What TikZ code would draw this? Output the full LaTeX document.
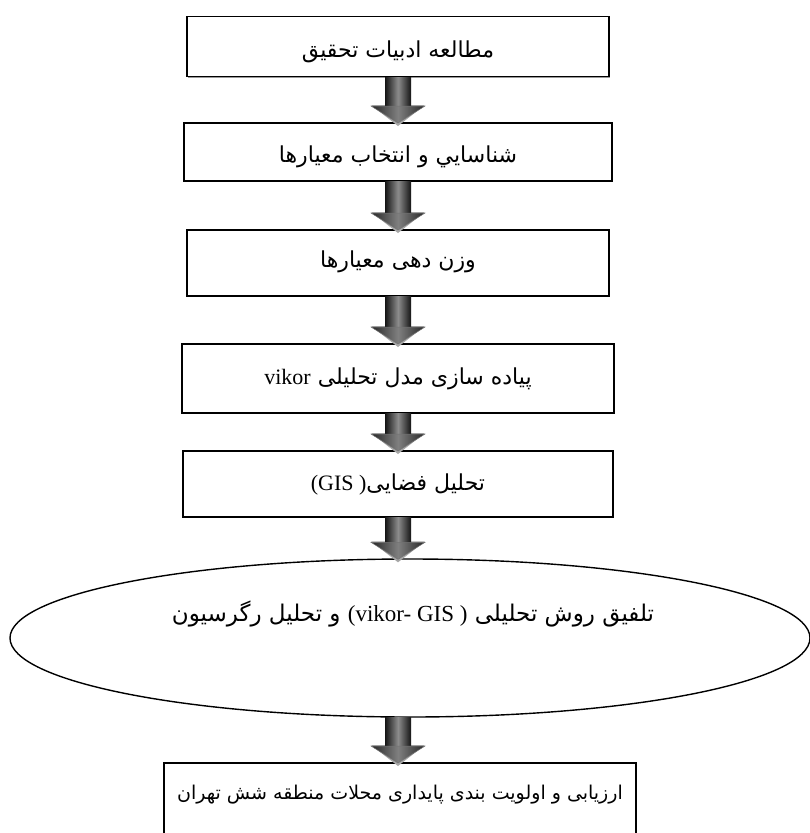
\documentclass[tikz,border=0pt]{standalone}
\usepackage{fontspec}
\setmainfont{Liberation Serif}
\newfontfamily\fafont[Script=Arabic]{DejaVu Sans}
\TeXXeTstate=1
\usetikzlibrary{calc,shapes.geometric,shadows}
\newcommand{\fa}[1]{{\fafont\beginR #1\endR}}
\newcommand{\lat}[1]{\beginL{\rmfamily #1}\endL{}}
\newcommand{\blockarrow}[3]{%
  \fill[black!35] let \p1=(#1.south), \p2=(#2.north), \p3=(#3.center) in
    (\x3-27pt,\y2+17pt) -- (\x3,\y2-4pt) -- (\x3+27pt,\y2+17pt) -- cycle;
  \shade[left color=black!92, right color=black!92, middle color=black!45]
    let \p1=(#1.south), \p2=(#2.north), \p3=(#3.center) in
    (\x3-13pt,\y1) rectangle (\x3+13pt,\y2+15.5pt);
  \shade[left color=black!85, right color=black!85, middle color=black!50, draw=black!55, line width=0.5pt]
    let \p1=(#1.south), \p2=(#2.north), \p3=(#3.center) in
    (\x3-27pt,\y2+16pt) -- (\x3,\y2-1pt) -- (\x3+27pt,\y2+16pt) -- cycle;
}
\tikzset{
  stepbox/.style={draw, line width=1.6pt, fill=white, rectangle, inner sep=0pt,
    font=\fontsize{22}{26}\selectfont,
    drop shadow={shadow xshift=1.3pt, shadow yshift=-1.3pt, fill=black!40, opacity=1}},
  ovalbox/.style={draw, line width=1.4pt, ellipse, inner sep=0pt, fill=white},
  ovaltext/.style={inner sep=0pt, font=\fontsize{23}{27}\selectfont}
}
\begin{document}
\begin{tikzpicture}[x=1pt,y=-1pt]
\useasboundingbox (0,0) rectangle (810,833);
\clip (0,0) rectangle (810,833);
\fill[white] (0,0) rectangle (810,833);

\node[stepbox, anchor=north, minimum width=422pt, text height=41pt, text depth=19pt] (b1) at (398,15.7)
  {\fa{مطالعه ادبیات تحقیق}};
\node[stepbox, anchor=north, minimum width=428pt, text height=40pt, text depth=18pt] (b2) at (398,122)
  {\fa{شناسايي و انتخاب معيارها}};
\node[stepbox, anchor=north, minimum width=422pt, text height=38pt, text depth=28pt] (b3) at (398,229)
  {\fa{وزن دهی معیارها}};
\node[stepbox, anchor=north, minimum width=432pt, text height=41pt, text depth=28pt] (b4) at (398,343)
  {\fa{پیاده سازی مدل تحلیلی \lat{vikor}}};
\node[stepbox, anchor=north, minimum width=430pt, text height=40pt, text depth=26pt] (b5) at (398,450)
  {\fa{تحلیل فضایی\lat{(GIS )}}};
\node[ovalbox, minimum width=800pt, minimum height=158pt] (ell) at (410,638) {};
\node[ovaltext, anchor=base] (elltext) at (413,621)
  {\fa{تلفیق روش تحلیلی \lat{(vikor- GIS )} و تحلیل رگرسیون}};
\node[stepbox, anchor=north, minimum width=472pt, text height=37pt, text depth=72pt,
  font=\fontsize{19}{23}\selectfont] (b6) at (400,762)
  {\fa{ارزیابی و اولویت بندی پایداری محلات منطقه شش تهران}};

\blockarrow{b1}{b2}{b1}
\blockarrow{b2}{b3}{b2}
\blockarrow{b3}{b4}{b3}
\blockarrow{b4}{b5}{b4}
\blockarrow{b5}{ell}{b5}
\blockarrow{ell}{b6}{b1}
\end{tikzpicture}
\end{document}
